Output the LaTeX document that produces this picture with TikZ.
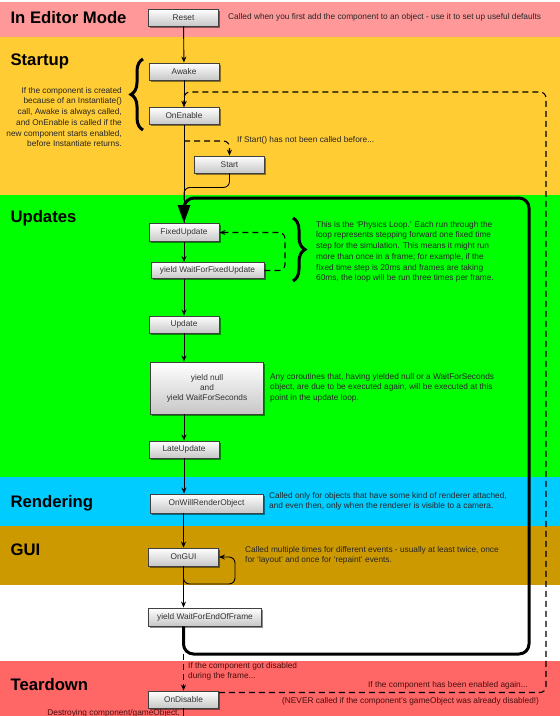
\documentclass[tikz,border=0pt]{standalone}
\usepackage{fontspec}
\setmainfont{Liberation Sans}
\usetikzlibrary{positioning,arrows.meta,shadows,decorations.pathreplacing}

\definecolor{editorpink}{HTML}{FF9999}
\definecolor{startupyellow}{HTML}{FFCC33}
\definecolor{updategreen}{HTML}{00FF00}
\definecolor{rendercyan}{HTML}{00CCFF}
\definecolor{guibrown}{HTML}{CC9900}
\definecolor{teardownred}{HTML}{FF6666}
\definecolor{teardowntext}{HTML}{4A0E0E}

\tikzset{
  fnbox/.style={draw=black!75, line width=0.9pt, top color=white, bottom color=black!22,
    minimum width=70pt, minimum height=17pt, inner sep=0pt, text=black!80,
    font=\fontsize{8.3}{10}\selectfont,
    drop shadow={shadow xshift=1.5pt, shadow yshift=-1.5pt, opacity=0.45, fill=black}},
  widebox/.style={fnbox, minimum width=113pt},
  flow/.style={line width=0.9pt, -{Stealth[length=6pt,width=5pt]}},
  dashflow/.style={line width=1.1pt, dash pattern=on 6pt off 4pt, rounded corners=6pt},
  section/.style={anchor=base west, font=\fontsize{16.7}{18}\bfseries\selectfont},
  note/.style={font=\fontsize{8.3}{10.7}\selectfont, text=black!85, inner sep=0pt},
  bracemark/.style={decorate, line width=3pt, decoration={brace, amplitude=12pt}},
}

\begin{document}
\begin{tikzpicture}[x=1pt,y=-1pt]
    \useasboundingbox (0,0) rectangle (560,716);
    % bands
    \fill[editorpink] (0,2) rectangle (560,37);
    \fill[startupyellow] (0,37) rectangle (560,195);
    \fill[updategreen] (0,195) rectangle (560,477);
    \fill[rendercyan] (0,477) rectangle (560,526);
    \fill[guibrown] (0,526) rectangle (560,585);
    \fill[teardownred] (0,661) rectangle (560,716);

    % section titles
    \node[section] (editortitle) at (7,23) {In Editor Mode};
    \node[section] (startuptitle) at (7,65) {Startup};
    \node[section] (updatestitle) at (7,222) {Updates};
    \node[section] (rendertitle) at (7,507) {Rendering};
    \node[section] (guititle) at (7,555) {GUI};
    \node[section] (teardowntitle) at (7,690) {Teardown};

    % event functions
    \node[fnbox] (reset) at (183.5,17.5) {Reset};
    \node[fnbox] (awake) at (184,71.5) {Awake};
    \node[fnbox] (onenable) at (184,116) {OnEnable};
    \node[fnbox] (start) at (229.5,164.5) {Start};
    \node[fnbox, minimum height=18pt] (fixedupdate) at (184,232.5) {FixedUpdate};
    \node[widebox, minimum height=16pt] (waitfixed) at (207.5,270.5) {yield WaitForFixedUpdate};
    \node[fnbox] (update) at (184,324.5) {Update};
    \node[widebox, minimum height=52pt, align=center] (yieldnull) at (207,388) {yield null\\and\\yield WaitForSeconds};
    \node[fnbox] (lateupdate) at (184,449.5) {LateUpdate};
    \node[widebox, minimum height=19pt] (onwillrender) at (206.5,503.5) {OnWillRenderObject};
    \node[fnbox, minimum height=18pt] (ongui) at (183.5,557) {OnGUI};
    \node[widebox, minimum height=18pt] (waitend) at (205,617) {yield WaitForEndOfFrame};
    \node[fnbox] (ondisable) at (183.5,699.5) {OnDisable};

    \coordinate (enableback) at (546,92);
    \coordinate (startfork) at (184,141);
    \coordinate (startjoin) at (184,200);
    \coordinate (loopbot) at (529,654);
    \coordinate (looptop) at (529,198);
    \coordinate (physloop) at (285,232.5);
    \coordinate (guiloop) at (235,584);
    \coordinate (destroyend) at (183.5,716);

    % notes
    \node[note, anchor=west] (resetnote) at (228,17) {Called when you first add the component to an object - use it to set up useful defaults};
    \node[note, anchor=north east, align=right] (instnote) at (122,87) {If the component is created\\because of an Instantiate()\\call, Awake is always called,\\and OnEnable is called if the\\new component starts enabled,\\before Instantiate returns.};
    \node[note, anchor=west] (startnote) at (237,140) {If Start() has not been called before...};
    \node[note, anchor=north west, align=left] (physnote) at (316,221) {This is the `Physics Loop.' Each run through the\\loop represents stepping forward one fixed time\\step for the simulation. This means it might run\\more than once in a frame; for example, if the\\fixed time step is 20ms and frames are taking\\60ms, the loop will be run three times per frame.};
    \node[note, anchor=north west, align=left] (coronote) at (270,373) {Any coroutines that, having yielded null or a WaitForSeconds\\object, are due to be executed again, will be executed at this\\point in the update loop.};
    \node[note, anchor=north west, align=left] (rendernote) at (269,492) {Called only for objects that have some kind of renderer attached,\\and even then, only when the renderer is visible to a camera.};
    \node[note, anchor=north west, align=left] (guinote) at (245,546) {Called multiple times for different events - usually at least twice, once\\for `layout' and once for `repaint' events.};
    \node[note, text=teardowntext, anchor=north west, align=left] (disablenote) at (188,662) {If the component got disabled\\during the frame...};
    \node[note, text=teardowntext, anchor=east] (enablenote) at (528,685) {If the component has been enabled again...};
    \node[note, text=teardowntext, anchor=west] (nevernote) at (282,701) {(NEVER called if the component's gameObject was already disabled!)};
    \node[note, text=teardowntext, anchor=east] (destroynote) at (180,713) {Destroying component/gameObject,};

    % braces
    \draw[bracemark] (143,130) -- (143,59);
    \draw[bracemark] (293,218) -- (293,281);

    % flow
    \draw[flow] (reset) -- (awake);
    \draw[flow] (awake) -- (onenable);
    \draw[line width=0.9pt] (onenable.south) -- (fixedupdate.north);
    \draw[dashflow, -{Stealth[length=6pt,width=5pt]}] (startfork) -| (start.north);
    \draw[line width=0.9pt, rounded corners=6pt] (start.south) |- ++(-20,14) -| (startjoin);
    \draw[flow] (fixedupdate) -- (fixedupdate.south |- waitfixed.north);
    \draw[dashflow, -{Stealth[length=6pt,width=5pt]}] (waitfixed.east) -| (physloop) -- (fixedupdate.east);
    \draw[flow] (waitfixed.south -| update.north) -- (update);
    \draw[flow] (update) -- (update.south |- yieldnull.north);
    \draw[flow] (yieldnull.south -| lateupdate.north) -- (lateupdate);
    \draw[flow] (lateupdate) -- (lateupdate.south |- onwillrender.north);
    \draw[flow] (onwillrender.south -| ongui.north) -- (ongui);
    \draw[flow] (ongui) -- (ongui.south |- waitend.north);
    \draw[flow, rounded corners=6pt] (ongui.south) |- (guiloop) |- (ongui.east);
    \draw[line width=3pt, rounded corners=10pt, -{Triangle[length=18pt,width=12pt]}]
      (waitend.south -| ongui.south) |- (loopbot) -- (looptop) -| (fixedupdate.north);
    \draw[dashflow, -{Stealth[length=6pt,width=5pt]}] (ondisable.north |- loopbot) -- (ondisable.north);
    \draw[dashflow, -{Stealth[length=6pt,width=5pt]}] ([yshift=7pt]ondisable.east) -| (enableback) -| (onenable.north);
    \draw[line width=0.9pt] (ondisable) -- (destroyend);
\end{tikzpicture}
\end{document}
